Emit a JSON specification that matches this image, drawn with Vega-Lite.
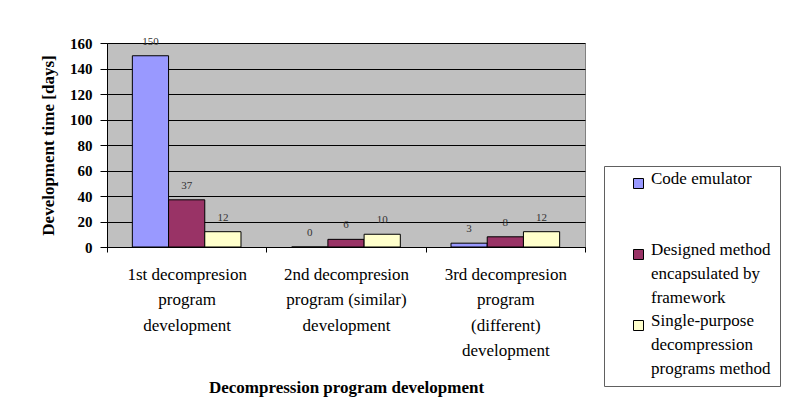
{
  "$schema": "https://vega.github.io/schema/vega-lite/v6.json",
  "width": 478,
  "height": 204,
  "autosize": {"type": "none"},
  "padding": {"left": 107, "top": 43, "right": 210, "bottom": 164},
  "background": "white",
  "config": {
    "font": "Liberation Serif",
    "view": {"fill": "#C0C0C0", "stroke": "#808080", "strokeWidth": 1},
    "style": {"guide-label": {"lineHeight": 24}}
  },
  "data": {
    "values": [
      {"phase": "1st decompresion program development", "method": "Code emulator", "days": 150},
      {"phase": "1st decompresion program development", "method": "Designed method encapsulated by framework", "days": 37},
      {"phase": "1st decompresion program development", "method": "Single-purpose decompression programs method", "days": 12},
      {"phase": "2nd decompresion program (similar) development", "method": "Code emulator", "days": 0},
      {"phase": "2nd decompresion program (similar) development", "method": "Designed method encapsulated by framework", "days": 6},
      {"phase": "2nd decompresion program (similar) development", "method": "Single-purpose decompression programs method", "days": 10},
      {"phase": "3rd decompresion program (different) development", "method": "Code emulator", "days": 3},
      {"phase": "3rd decompresion program (different) development", "method": "Designed method encapsulated by framework", "days": 8},
      {"phase": "3rd decompresion program (different) development", "method": "Single-purpose decompression programs method", "days": 12}
    ]
  },
  "encoding": {
    "x": {
      "field": "phase",
      "type": "nominal",
      "sort": null,
      "title": "Decompression program development",
      "scale": {"paddingInner": 0, "paddingOuter": 0},
      "axis": {
        "labelAngle": 0,
        "tickBand": "extent",
        "tickSize": 5,
        "tickColor": "black",
        "domainColor": "black",
        "labelColor": "black",
        "labelFontSize": 17,
        "labelLineHeight": 25.5,
        "labelBaseline": "top",
        "labelPadding": 14,
        "labelLimit": 300,
        "labelOverlap": "greedy",
        "labelExpr": "datum.extra ? '' : datum.value == '1st decompresion program development' ? ['1st decompresion', 'program', 'development'] : datum.value == '2nd decompresion program (similar) development' ? ['2nd decompresion', 'program (similar)', 'development'] : ['3rd decompresion', 'program', '(different)', 'development']",
        "titleFontSize": 17,
        "titleFontWeight": "bold",
        "titleColor": "black",
        "titlePadding": 21
      }
    },
    "xOffset": {
      "field": "method",
      "sort": null,
      "scale": {"paddingInner": 0, "paddingOuter": 0.7}
    },
    "y": {
      "field": "days",
      "type": "quantitative",
      "title": "Development time [days]",
      "scale": {"domain": [0, 160], "nice": false},
      "axis": {
        "values": [0, 20, 40, 60, 80, 100, 120, 140, 160],
        "grid": true,
        "gridColor": "black",
        "gridOpacity": 1,
        "gridWidth": 1,
        "domainColor": "black",
        "tickColor": "black",
        "tickSize": 7,
        "labelColor": "black",
        "labelFontSize": 15,
        "labelFontWeight": "bold",
        "labelPadding": 8,
        "titleFontSize": 17,
        "titleFontWeight": "bold",
        "titleColor": "black",
        "titlePadding": 12
      }
    }
  },
  "layer": [
    {
      "mark": {"type": "bar", "stroke": "black", "strokeWidth": 1},
      "encoding": {
        "color": {
          "field": "method",
          "type": "nominal",
          "sort": null,
          "scale": {
            "domain": ["Code emulator", "Designed method encapsulated by framework", "Single-purpose decompression programs method"],
            "range": ["#9999FF", "#993366", "#FFFFCC"]
          },
          "legend": {
            "title": null,
            "orient": "none",
            "legendX": 497,
            "legendY": 123,
            "direction": "vertical",
            "fillColor": "white",
            "strokeColor": "#606060",
            "padding": 9,
            "symbolType": "square",
            "symbolSize": 100,
            "symbolStrokeColor": "black",
            "symbolStrokeWidth": 1,
            "symbolOpacity": 1,
            "symbolOffset": 17,
            "labelFontSize": 17,
            "labelColor": "black",
            "labelBaseline": "alphabetic",
            "labelLimit": 300,
            "labelOffset": 4,
            "rowPadding": 5,
            "labelExpr": "datum.value == 'Code emulator' ? ['Code emulator', ' ', ' '] : datum.value == 'Designed method encapsulated by framework' ? ['Designed method', 'encapsulated by', 'framework'] : ['Single-purpose', 'decompression', 'programs method']"
          }
        }
      }
    },
    {
      "mark": {"type": "text", "baseline": "alphabetic", "dy": -11, "fontSize": 11, "color": "#333333"},
      "encoding": {"text": {"field": "days", "type": "quantitative"}}
    }
  ]
}
